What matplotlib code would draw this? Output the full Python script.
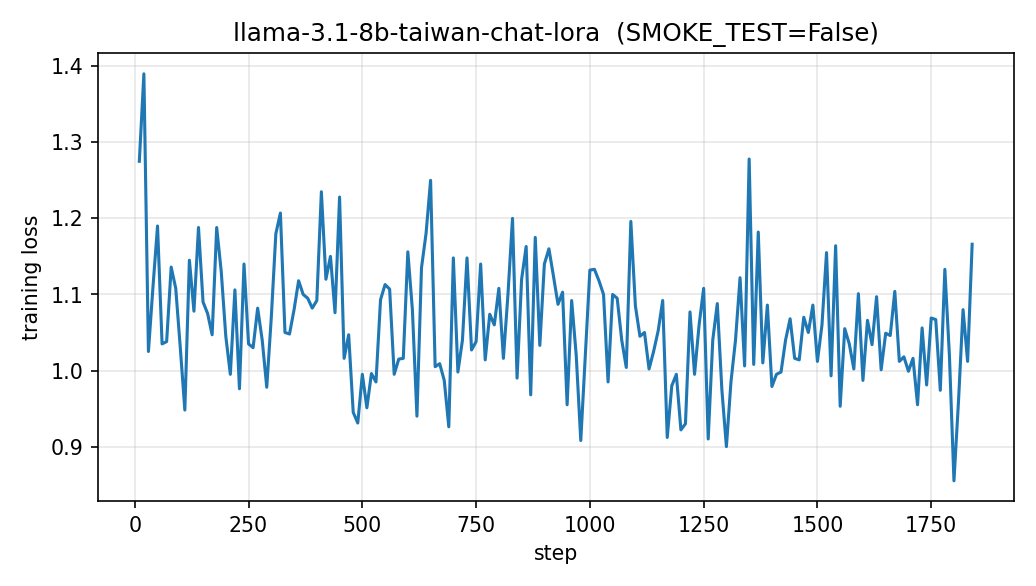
import numpy as np
import matplotlib
matplotlib.use("Agg")
import matplotlib.pyplot as plt

steps = np.arange(10, 1850, 10)

loss = [
    1.275, 1.39, 1.025, 1.11, 1.19, 1.035, 1.038, 1.136, 1.108, 1.03,
    0.948, 1.145, 1.078, 1.188, 1.09, 1.075, 1.047, 1.188, 1.13, 1.045,
    0.995, 1.106, 0.976, 1.14, 1.035, 1.03, 1.082, 1.04, 0.978, 1.07,
    1.18, 1.207, 1.05, 1.048, 1.08, 1.118, 1.10, 1.095, 1.082, 1.092,
    1.235, 1.12, 1.15, 1.076, 1.228, 1.016, 1.047, 0.945, 0.931, 0.995,
    0.951, 0.996, 0.985, 1.093, 1.113, 1.107, 0.995, 1.015, 1.016, 1.156,
    1.08, 0.94, 1.135, 1.18, 1.25, 1.005, 1.009, 0.987, 0.926, 1.148,
    0.998, 1.04, 1.148, 1.027, 1.038, 1.14, 1.014, 1.074, 1.06, 1.108,
    1.016, 1.10, 1.20, 0.99, 1.12, 1.163, 0.968, 1.175, 1.033, 1.14,
    1.16, 1.124, 1.087, 1.103, 0.955, 1.092, 1.02, 0.908, 1.02, 1.132,
    1.133, 1.118, 1.10, 0.985, 1.10, 1.095, 1.04, 1.004, 1.196, 1.085,
    1.045, 1.05, 1.002, 1.025, 1.052, 1.092, 0.912, 0.98, 0.995, 0.922,
    0.93, 1.077, 0.995, 1.06, 1.108, 0.91, 1.04, 1.088, 0.975, 0.90,
    0.985, 1.04, 1.122, 1.006, 1.278, 1.008, 1.182, 1.01, 1.086, 0.979,
    0.995, 0.998, 1.04, 1.068, 1.016, 1.014, 1.07, 1.05, 1.086, 1.012,
    1.06, 1.155, 0.993, 1.164, 0.953, 1.055, 1.035, 1.002, 1.101, 0.987,
    1.066, 1.034, 1.097, 1.001, 1.049, 1.046, 1.104, 1.012, 1.018, 0.999,
    1.016, 0.955, 1.056, 0.981, 1.069, 1.067, 0.974, 1.133, 1.02, 0.855,
    0.96, 1.08, 1.012, 1.166,
]

fig, ax = plt.subplots(figsize=(7, 3.96), dpi=148)
ax.plot(steps, loss, color="#1f77b4", linewidth=1.5)
ax.set_title("llama-3.1-8b-taiwan-chat-lora  (SMOKE_TEST=False)")
ax.set_xlabel("step")
ax.set_ylabel("training loss")
ax.grid(True, alpha=0.3)
fig.tight_layout()
fig.savefig("out.png")
